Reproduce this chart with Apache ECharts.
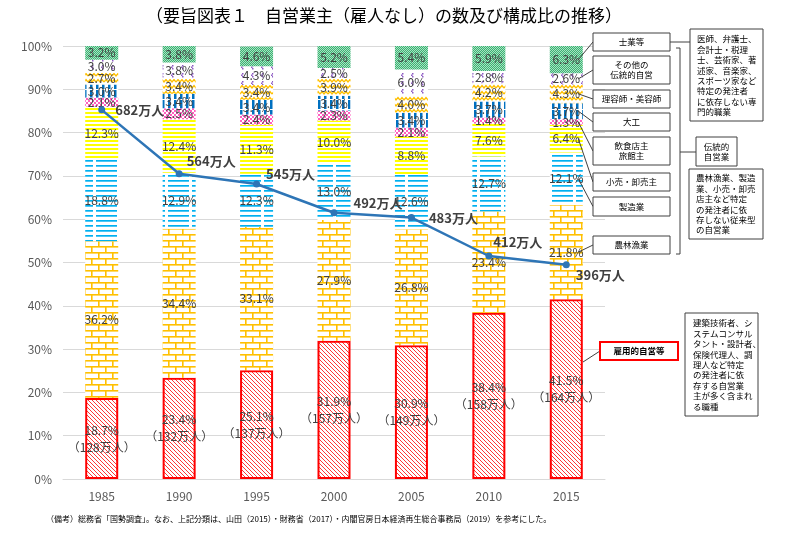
<!DOCTYPE html>
<html><head><meta charset="utf-8">
<script src="https://cdn.jsdelivr.net/npm/echarts@6/dist/echarts.min.js"></script>
<style>html,body{margin:0;padding:0;background:#fff}#c{width:800px;height:533px}</style>
</head><body><div id="c"></div>
<script>
// ---- data ----
const years = ['1985','1990','1995','2000','2005','2010','2015'];
const koyouteki = [18.7, 23.4, 25.1, 31.9, 30.9, 38.4, 41.5];
const koyoutekiPeople = [128, 132, 137, 157, 149, 158, 164];
const nourin = [36.2, 34.4, 33.1, 27.9, 26.8, 23.4, 21.8];
const seizou = [18.8, 12.9, 12.3, 13.0, 12.6, 12.7, 12.1];
const kouri = [12.3, 12.4, 11.3, 10.0, 8.8, 7.6, 6.4];
const inshoku = [2.1, 2.5, 2.4, 2.3, 2.1, 1.4, 1.3];
const daiku = [3.0, 3.4, 3.4, 3.4, 3.4, 3.7, 3.7];
const riyou = [2.7, 3.4, 3.4, 3.9, 4.0, 4.2, 4.3];
const sonota = [3.0, 3.8, 4.3, 2.5, 6.0, 2.8, 2.6];
const shigyou = [3.2, 3.8, 4.6, 5.2, 5.4, 5.9, 6.3];
const totalPeople = [682, 564, 545, 492, 483, 412, 396];
const seriesNames = ['雇用的自営等','農林漁業','製造業','小売・卸売主','飲食店主旅館主','大工','理容師・美容師','その他の伝統的自営','士業等'];
const titleText = '（要旨図表１　自営業主（雇人なし）の数及び構成比の推移）';
const noteText = '（備考）総務省「国勢調査」。なお、上記分類は、山田（2015）・財務省（2017）・内閣官房日本経済再生総合事務局（2019）を参考にした。';

// ---- patterns ----
function pat(w, h, draw) {
  const c = document.createElement('canvas'); c.width = w; c.height = h;
  const g = c.getContext('2d'); g.fillStyle = '#fff'; g.fillRect(0, 0, w, h); draw(g);
  return { image: c, repeat: 'repeat' };
}
const pRed = pat(4, 4, g => { g.strokeStyle = '#FF2020'; g.lineWidth = 0.9;
  g.beginPath(); g.moveTo(-1,-1); g.lineTo(5,5); g.moveTo(-1,3); g.lineTo(1,5); g.moveTo(3,-1); g.lineTo(5,1); g.stroke(); });
const pBrick = pat(14, 12, g => { g.fillStyle = '#FFC000';
  g.fillRect(0,0,14,1.6); g.fillRect(0,6,14,1.6); g.fillRect(0,0,1.6,6); g.fillRect(7,6,1.6,6); });
const pLBlue = pat(24, 5, g => { g.fillStyle = '#00B0F0'; g.fillRect(0,0,21,1.7); });
const pYellow = pat(4, 4, g => { g.fillStyle = '#FFFF00'; g.fillRect(0,0,4,2); });
const pPink = pat(4, 4, g => { g.fillStyle = '#FF5FBF'; g.fillRect(0,0,2,2); g.fillRect(2,2,2,2); });
const pBlueV = pat(6, 10, g => { g.fillStyle = '#0070C0'; g.fillRect(0,0,2.5,9); });
const pWave = pat(8, 6, g => { g.strokeStyle = '#FFC000'; g.lineWidth = 1.4;
  g.beginPath(); g.moveTo(0,4); g.lineTo(2,1.5); g.lineTo(4,4); g.lineTo(6,1.5); g.lineTo(8,4); g.stroke(); });
const pPurple = pat(10, 8, g => { g.fillStyle = '#8E5CC4';
  g.fillRect(2,1,1.5,1.5); g.fillRect(1,2.5,1.5,1.5); g.fillRect(2,4,1.5,1.5); });
const pGreen = pat(2, 2, g => { g.fillStyle = '#3DB173'; g.fillRect(0,0,2,2);
  g.fillStyle = '#A6E3C2'; g.fillRect(0,0,1,1); g.fillRect(1,1,1,1); });

const seriesData = [koyouteki, nourin, seizou, kouri, inshoku, daiku, riyou, sonota, shigyou];
const fills = [pRed, pBrick, pLBlue, pYellow, pPink, pBlueV, pWave, pPurple, pGreen];

const FONT = '"Noto Sans CJK JP", "Noto Sans", sans-serif';
const chart = echarts.init(document.getElementById('c'), null, { renderer: 'canvas' });

const barSeries = seriesData.map((d, i) => ({
  name: seriesNames[i], type: 'bar', stack: 'all', barWidth: 33, data: d,
  itemStyle: i === 0 ? { color: fills[i], borderColor: '#FF0000', borderWidth: 2 } : { color: fills[i] },
  label: {
    show: true, position: 'inside', color: '#404040', fontSize: 12, fontFamily: FONT, lineHeight: 17,
    formatter: i === 0 ? (p => p.value.toFixed(1) + '%\n（' + koyoutekiPeople[p.dataIndex] + '万人）')
                       : (p => p.value.toFixed(1) + '%')
  },
  emphasis: { disabled: true }, animation: false
}));

const lineOffsets = [[4,0],[-2,-13],[0,-10],[10,-10],[8,0],[-5,-14],[0,10]];
const lineSeries = {
  name: '合計', type: 'line', yAxisIndex: 1, z: 10, animation: false,
  data: totalPeople.map((v, i) => ({ value: v, label: { offset: lineOffsets[i] } })),
  symbol: 'circle', symbolSize: 7,
  lineStyle: { color: '#2E75B6', width: 2.5 }, itemStyle: { color: '#2E75B6' },
  label: { show: true, position: 'right', distance: 6, formatter: '{c}万人', color: '#404040',
    fontSize: 13, fontWeight: 'bold', fontFamily: FONT }
};

chart.setOption({
  animation: false,
  backgroundColor: '#fff',
  textStyle: { fontFamily: FONT },
  grid: { left: 63, right: 195, top: 46, bottom: 54, containLabel: false },
  xAxis: { type: 'category', data: years,
    axisLine: { lineStyle: { color: '#D9D9D9' } }, axisTick: { show: false },
    axisLabel: { color: '#595959', fontSize: 12, margin: 11 } },
  yAxis: [
    { type: 'value', min: 0, max: 100, interval: 10,
      axisLabel: { formatter: '{value}%', color: '#595959', fontSize: 12, margin: 11 },
      splitLine: { lineStyle: { color: '#D9D9D9' } }, axisLine: { show: false }, axisTick: { show: false } },
    { type: 'value', min: 0, max: 800, show: false, splitLine: { show: false } }
  ],
  series: barSeries.concat([lineSeries])
});

// ---- annotations ----
const boxes = [
  { r: [593,33,670,51], t: '士業等' },
  { r: [593,56,670,84], t: 'その他の\n伝統的自営' },
  { r: [593,90,670,108], t: '理容師・美容師' },
  { r: [593,113,670,131], t: '大工' },
  { r: [593,137,670,165], t: '飲食店主\n旅館主' },
  { r: [593,173,670,191], t: '小売・卸売主' },
  { r: [593,197,670,216], t: '製造業' },
  { r: [593,236,670,254], t: '農林漁業' }
];
const g = [];
function rect(r, stroke, lw) {
  g.push({ type: 'rect', shape: { x: r[0], y: r[1], width: r[2]-r[0], height: r[3]-r[1] },
    style: { fill: '#fff', stroke: stroke || '#404040', lineWidth: lw || 1 }, z: 20 });
}
function text(x, y, t, opt) {
  g.push({ type: 'text', z: 21, style: Object.assign({ x, y, text: t, fill: '#000', font: '8.5px ' + FONT,
    textAlign: 'center', textVerticalAlign: 'middle', lineHeight: 10.4 }, opt || {}) });
}
function line(pts, color) {
  g.push({ type: 'polyline', z: 19, shape: { points: pts }, style: { stroke: color || '#404040', lineWidth: 1, fill: null } });
}
// leader lines from 2015 segments
let cum = 0;
const mids = [];
seriesData.forEach(d => { mids.push(cum + d[6] / 2); cum += d[6]; });
boxes.forEach((b, k) => {
  const si = 8 - k;
  const p = chart.convertToPixel({ xAxisIndex: 0, yAxisIndex: 0 }, [6, mids[si]]);
  line([[p[0] + 12, p[1]], [b.r[0], (b.r[1] + b.r[3]) / 2]]);
});
boxes.forEach(b => { rect(b.r); text((b.r[0]+b.r[2])/2, (b.r[1]+b.r[3])/2, b.t); });

// 雇用的自営等
line([[583, 362], [600, 351]]);
rect([600,342,678,360], '#FF0000', 2);
text(639, 351, '雇用的自営等', { font: 'bold 8.5px ' + FONT });

// big boxes
line([[670,42],[690,42]]);
rect([690,29,763,121]);
text(697, 34, '医師、弁護士、\n会計士・税理\n士、芸術家、著\n述家、音楽家、\nスポーツ家など\n特定の発注者\nに依存しない専\n門的職業', { textAlign: 'left', textVerticalAlign: 'top' });
line([[676,48],[680,48],[680,254],[676,254]]);
line([[680,152],[696,152]]);
rect([696,137,737,166]);
text(716.5, 151.5, '伝統的\n自営業');
rect([689,169,763,239]);
text(696, 173, '農林漁業、製造\n業、小売・卸売\n店主など特定\nの発注者に依\n存しない従来型\nの自営業', { textAlign: 'left', textVerticalAlign: 'top' });
rect([685,313,758,416]);
text(693, 318, '建築技術者、シ\nステムコンサル\nタント・設計者、\n保険代理人、調\n理人など特定\nの発注者に依\n存する自営業\n主が多く含まれ\nる職種', { textAlign: 'left', textVerticalAlign: 'top' });

// title & note
text(384, 16, titleText, { font: '17px ' + FONT, fill: '#000' });
text(46, 519, noteText, { font: '8px ' + FONT, fill: '#000', textAlign: 'left' });

chart.setOption({ graphic: g });
</script>
</body></html>
